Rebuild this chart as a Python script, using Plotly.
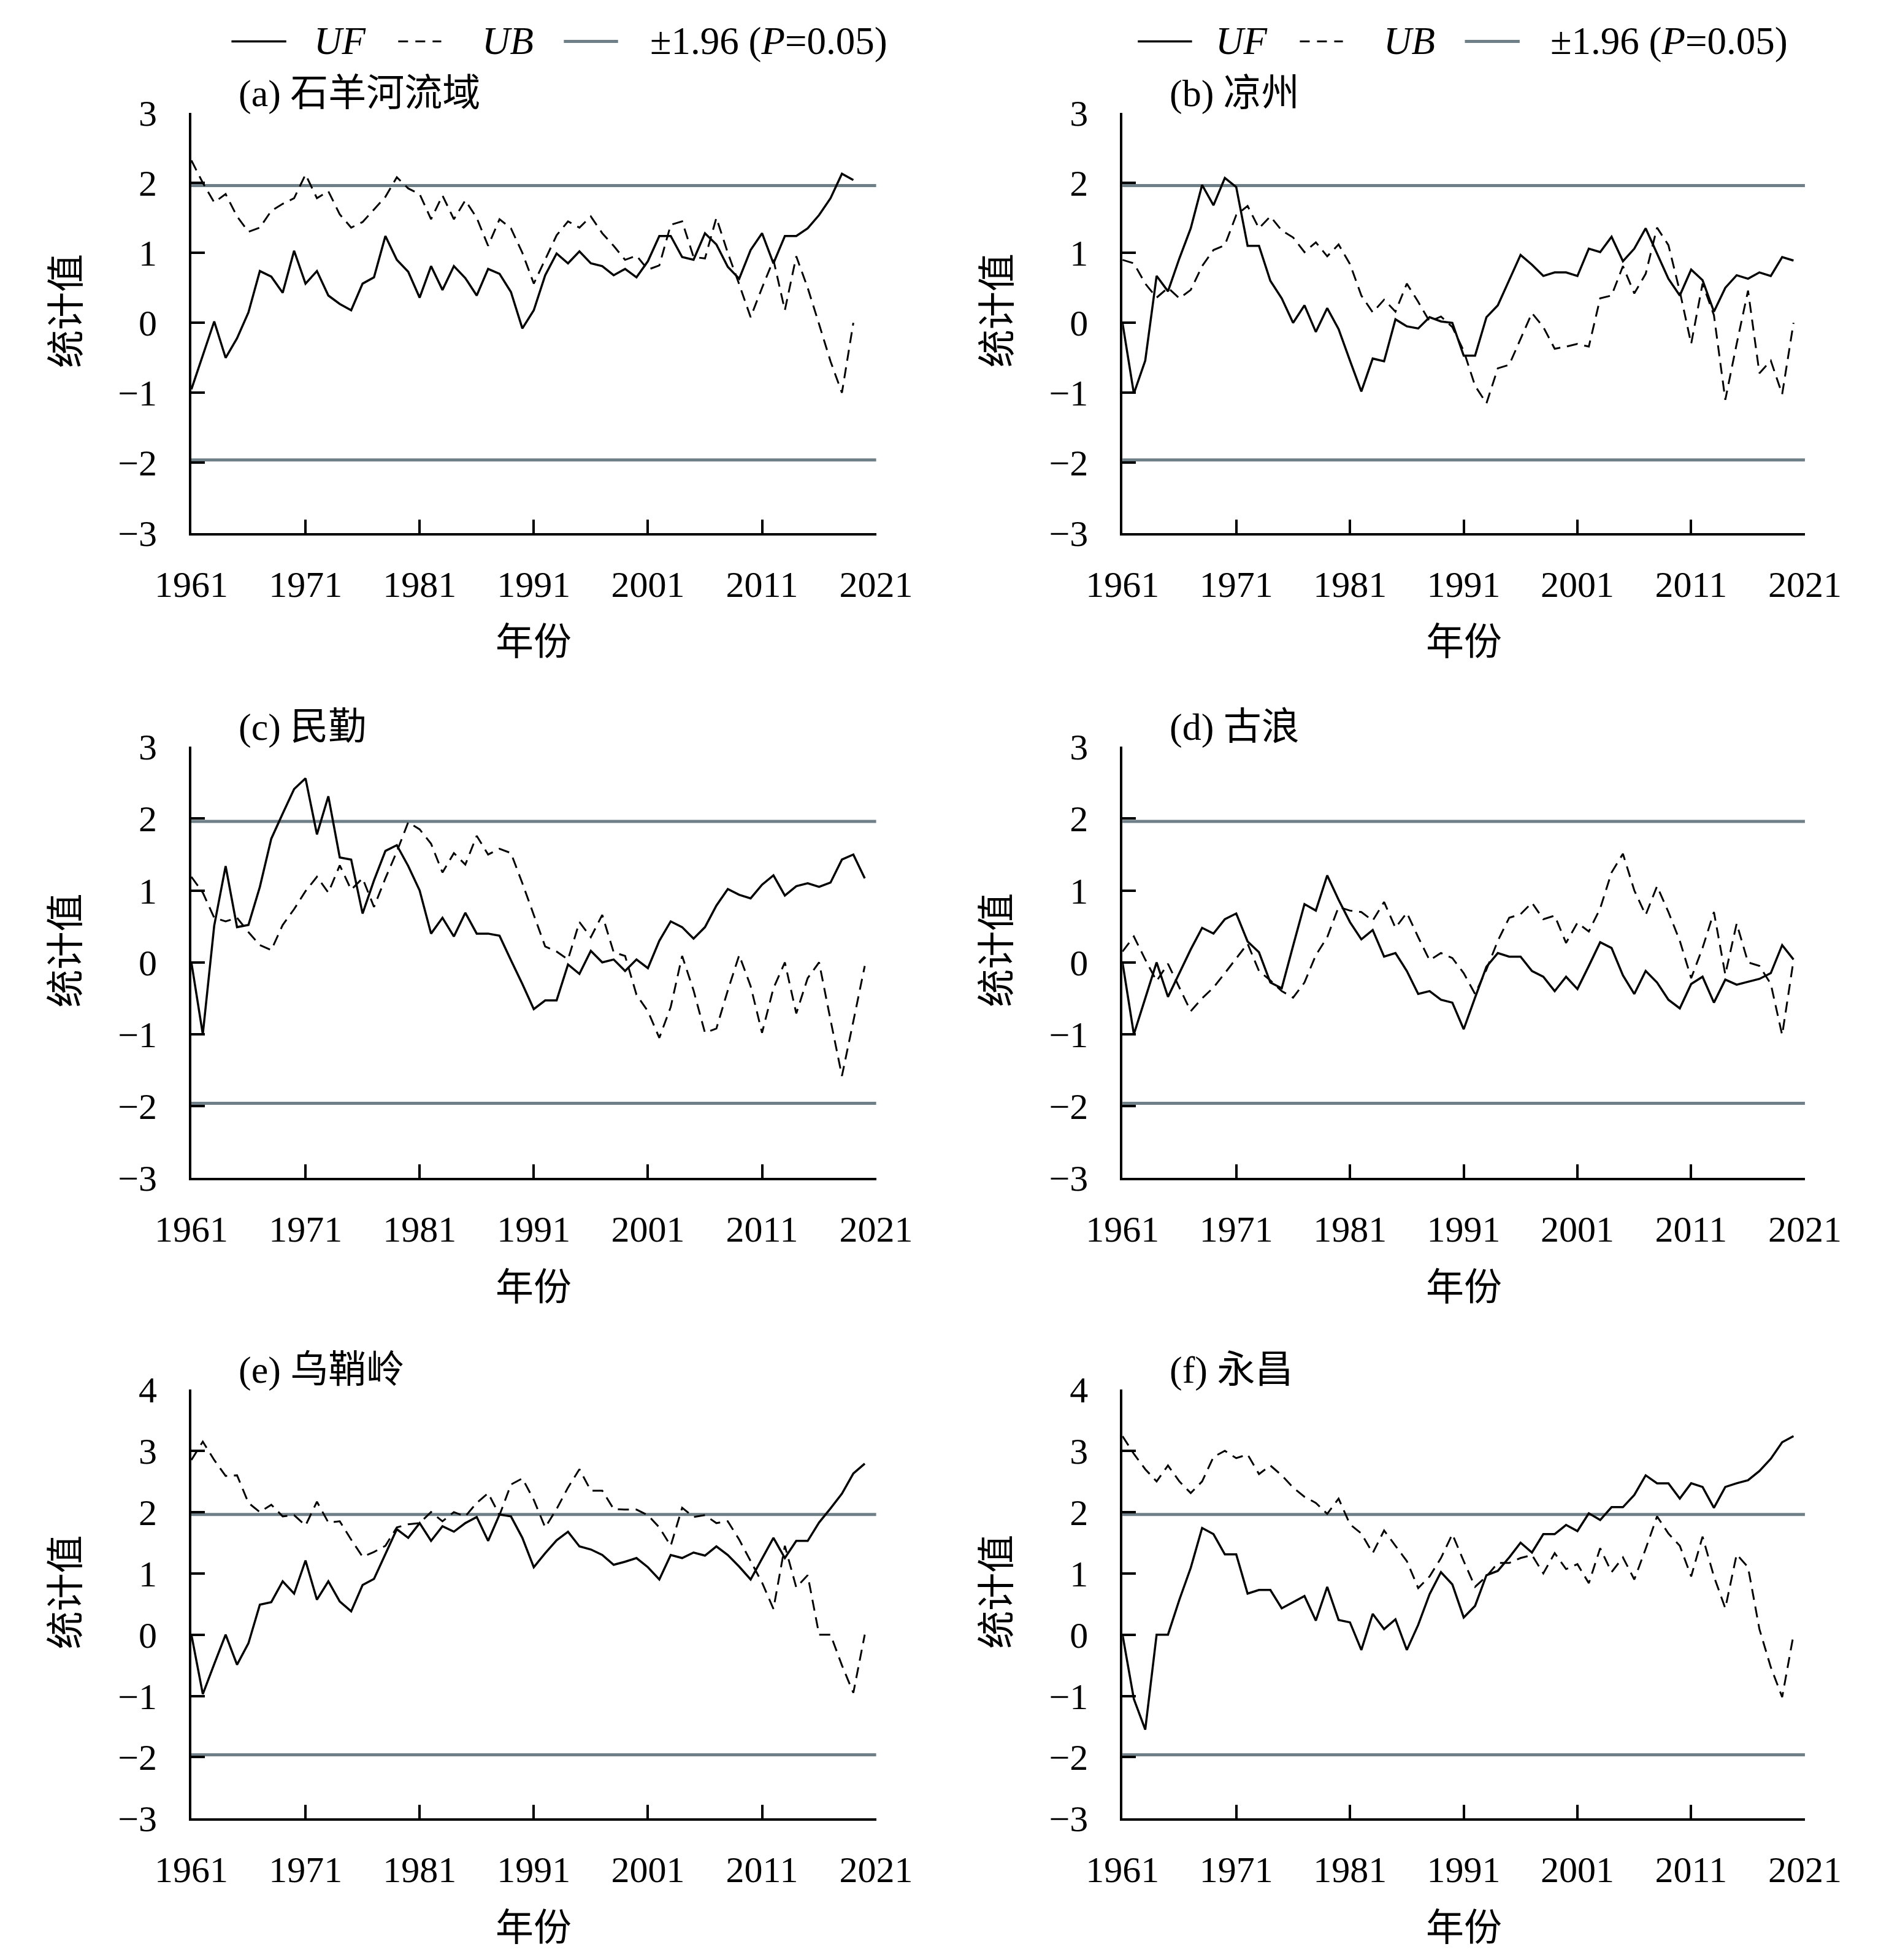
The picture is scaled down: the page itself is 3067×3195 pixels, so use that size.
import plotly.graph_objects as go
from plotly.subplots import make_subplots

# ── 1. DATA ──────────────────────────────────────────────────
YEARS_A = list(range(1961, 2020))   # basin series stops at 2019
YEARS = list(range(1961, 2021))

X_TICKS = [1961, 1971, 1981, 1991, 2001, 2011, 2021]

TITLES = ["(a) 石羊河流域", "(b) 凉州", "(c) 民勤", "(d) 古浪", "(e) 乌鞘岭", "(f) 永昌"]

uf_a = [-0.95, -0.47, 0.02, -0.50, -0.22, 0.15, 0.74, 0.66, 0.43, 1.03,
        0.56, 0.74, 0.39, 0.27, 0.18, 0.56, 0.65, 1.24, 0.90, 0.73,
        0.36, 0.81, 0.47, 0.81, 0.64, 0.39, 0.77, 0.70, 0.44, -0.08,
        0.18, 0.68, 0.99, 0.85, 1.02, 0.85, 0.81, 0.68, 0.77, 0.65,
        0.88, 1.24, 1.24, 0.94, 0.90, 1.28, 1.12, 0.80, 0.63, 1.04,
        1.28, 0.85, 1.24, 1.24, 1.35, 1.54, 1.78, 2.13, 2.04]
ub_a = [2.32, 2.00, 1.72, 1.84, 1.52, 1.30, 1.36, 1.60, 1.70, 1.78,
        2.12, 1.78, 1.88, 1.55, 1.36, 1.44, 1.62, 1.80, 2.08, 1.92,
        1.84, 1.48, 1.82, 1.48, 1.75, 1.50, 1.10, 1.48, 1.35, 1.00,
        0.56, 0.90, 1.25, 1.45, 1.36, 1.52, 1.28, 1.10, 0.90, 0.96,
        0.76, 0.82, 1.40, 1.45, 0.94, 0.92, 1.50, 1.00, 0.55, 0.08,
        0.50, 0.90, 0.18, 0.95, 0.50, -0.02, -0.55, -1.00, 0.00]

uf_b = [0.00, -1.01, -0.54, 0.67, 0.45, 0.92, 1.35, 1.97, 1.68, 2.07,
        1.94, 1.10, 1.10, 0.60, 0.35, 0.00, 0.25, -0.13, 0.21, -0.09,
        -0.54, -0.98, -0.51, -0.55, 0.05, -0.05, -0.08, 0.08, 0.02, 0.00,
        -0.47, -0.47, 0.08, 0.25, 0.61, 0.97, 0.83, 0.67, 0.72, 0.72,
        0.67, 1.06, 1.01, 1.23, 0.88, 1.06, 1.35, 0.99, 0.63, 0.39,
        0.76, 0.61, 0.16, 0.50, 0.68, 0.63, 0.72, 0.67, 0.94, 0.89]
ub_b = [0.90, 0.85, 0.56, 0.36, 0.50, 0.35, 0.47, 0.81, 1.04, 1.11,
        1.54, 1.67, 1.35, 1.52, 1.32, 1.22, 1.01, 1.15, 0.95, 1.12,
        0.84, 0.39, 0.15, 0.33, 0.16, 0.56, 0.30, 0.02, 0.09, -0.06,
        -0.40, -0.90, -1.15, -0.65, -0.60, -0.23, 0.14, -0.06, -0.37, -0.34,
        -0.30, -0.34, 0.35, 0.39, 0.81, 0.42, 0.70, 1.36, 1.11, 0.45,
        -0.30, 0.56, 0.11, -1.10, -0.30, 0.46, -0.72, -0.54, -1.02, 0.00]

uf_c = [0.00, -1.00, 0.51, 1.34, 0.49, 0.52, 1.05, 1.72, 2.07, 2.41,
        2.56, 1.78, 2.31, 1.46, 1.43, 0.68, 1.14, 1.55, 1.63, 1.34,
        1.00, 0.40, 0.62, 0.36, 0.69, 0.40, 0.40, 0.37, 0.03, -0.30,
        -0.65, -0.53, -0.53, -0.03, -0.16, 0.16, 0.00, 0.04, -0.12, 0.04,
        -0.08, 0.30, 0.57, 0.49, 0.33, 0.49, 0.79, 1.02, 0.94, 0.89,
        1.08, 1.21, 0.93, 1.06, 1.10, 1.05, 1.11, 1.43, 1.50, 1.17]
ub_c = [1.19, 0.97, 0.62, 0.57, 0.62, 0.42, 0.24, 0.17, 0.52, 0.74,
        0.99, 1.19, 0.97, 1.35, 1.01, 1.17, 0.77, 1.17, 1.54, 1.95,
        1.85, 1.65, 1.25, 1.52, 1.36, 1.76, 1.50, 1.58, 1.52, 1.10,
        0.66, 0.22, 0.15, 0.04, 0.56, 0.35, 0.66, 0.14, 0.09, -0.45,
        -0.68, -1.05, -0.62, 0.09, -0.39, -0.98, -0.92, -0.39, 0.10, -0.33,
        -0.98, -0.36, 0.00, -0.71, -0.22, 0.00, -0.80, -1.58, -0.82, -0.05]

uf_d = [0.00, -1.00, -0.50, 0.00, -0.48, -0.15, 0.18, 0.48, 0.40, 0.60,
        0.68, 0.29, 0.14, -0.28, -0.36, 0.23, 0.81, 0.72, 1.21, 0.87,
        0.56, 0.32, 0.45, 0.08, 0.13, -0.12, -0.44, -0.40, -0.52, -0.56,
        -0.93, -0.49, -0.06, 0.13, 0.08, 0.08, -0.12, -0.20, -0.40, -0.20,
        -0.37, -0.05, 0.28, 0.20, -0.18, -0.44, -0.12, -0.28, -0.52, -0.64,
        -0.30, -0.20, -0.56, -0.24, -0.31, -0.27, -0.23, -0.15, 0.24, 0.04]
ub_d = [0.15, 0.36, 0.04, -0.26, -0.02, -0.35, -0.68, -0.50, -0.35, -0.15,
        0.05, 0.26, -0.12, -0.25, -0.40, -0.49, -0.28, 0.10, 0.35, 0.77,
        0.72, 0.70, 0.58, 0.84, 0.48, 0.69, 0.35, 0.03, 0.13, 0.06,
        -0.15, -0.44, -0.10, 0.30, 0.62, 0.67, 0.83, 0.60, 0.65, 0.27,
        0.55, 0.43, 0.75, 1.25, 1.51, 1.00, 0.66, 1.06, 0.70, 0.30,
        -0.22, 0.20, 0.70, -0.17, 0.54, 0.00, -0.05, -0.30, -1.01, 0.03]

uf_e = [0.00, -0.97, -0.48, 0.00, -0.49, -0.14, 0.49, 0.53, 0.87, 0.67,
        1.21, 0.57, 0.87, 0.54, 0.38, 0.81, 0.91, 1.32, 1.72, 1.58,
        1.82, 1.53, 1.77, 1.68, 1.82, 1.92, 1.53, 1.96, 1.93, 1.58,
        1.10, 1.33, 1.54, 1.68, 1.44, 1.39, 1.30, 1.14, 1.19, 1.25,
        1.10, 0.90, 1.30, 1.25, 1.34, 1.29, 1.44, 1.30, 1.11, 0.90,
        1.24, 1.58, 1.25, 1.53, 1.53, 1.83, 2.06, 2.30, 2.63, 2.79]
ub_e = [2.85, 3.15, 2.85, 2.59, 2.60, 2.15, 2.00, 2.12, 1.93, 1.95,
        1.78, 2.17, 1.83, 1.85, 1.55, 1.27, 1.35, 1.45, 1.75, 1.80,
        1.82, 2.00, 1.85, 2.00, 1.93, 2.15, 2.31, 1.95, 2.45, 2.55,
        2.20, 1.75, 2.05, 2.40, 2.70, 2.35, 2.35, 2.05, 2.04, 2.04,
        1.95, 1.75, 1.45, 2.07, 1.92, 1.95, 1.82, 1.85, 1.55, 1.20,
        0.85, 0.42, 1.45, 0.77, 0.97, 0.00, 0.00, -0.50, -0.95, 0.00]

uf_f = [0.00, -1.05, -1.55, 0.00, 0.00, 0.57, 1.09, 1.74, 1.64, 1.31,
        1.31, 0.67, 0.73, 0.73, 0.43, 0.53, 0.63, 0.23, 0.78, 0.24,
        0.20, -0.25, 0.34, 0.09, 0.25, -0.25, 0.16, 0.66, 1.02, 0.82,
        0.28, 0.47, 0.97, 1.04, 1.26, 1.50, 1.34, 1.64, 1.64, 1.79,
        1.69, 1.98, 1.87, 2.08, 2.08, 2.28, 2.60, 2.47, 2.47, 2.22,
        2.47, 2.41, 2.07, 2.41, 2.47, 2.52, 2.67, 2.87, 3.14, 3.24]
ub_f = [3.24, 2.95, 2.70, 2.50, 2.76, 2.50, 2.31, 2.50, 2.90, 3.00,
        2.88, 2.94, 2.62, 2.76, 2.60, 2.40, 2.25, 2.15, 1.97, 2.22,
        1.80, 1.65, 1.33, 1.70, 1.45, 1.20, 0.76, 0.95, 1.25, 1.64,
        1.20, 0.78, 0.95, 1.17, 1.17, 1.25, 1.30, 1.00, 1.33, 1.07,
        1.15, 0.84, 1.41, 1.02, 1.26, 0.90, 1.40, 1.93, 1.65, 1.45,
        0.95, 1.60, 0.95, 0.43, 1.31, 1.10, 0.09, -0.53, -1.02, 0.00]

CRIT = 1.96
Y_RANGES = [[-3, 3], [-3, 3], [-3, 4]]   # per row

# ── 2. LAYOUT CONSTANTS (pixels in a 3067 x 3195 page) ───────
W, H = 3067, 3195
COL_X = [(254, 1416), (1834, 2992)]
ROW_Y = [(147, 846), (1202, 1920), (2272, 2986)]

GREY = "#6f7f87"
FONT = "Liberation Serif, Noto Sans CJK SC, serif"
FS = 60


def px(x):
    return x / W


def py(y):
    return 1 - y / H


panels = [
    (YEARS_A, uf_a, ub_a), (YEARS, uf_b, ub_b),
    (YEARS, uf_c, ub_c), (YEARS, uf_d, ub_d),
    (YEARS, uf_e, ub_e), (YEARS, uf_f, ub_f),
]

# ── 3. BUILD FIGURE ──────────────────────────────────────────
fig = make_subplots(rows=3, cols=2)

for k, (yrs, uf, ub) in enumerate(panels):
    r, c = k // 2 + 1, k % 2 + 1
    fig.add_trace(go.Scatter(x=yrs, y=uf, mode="lines", showlegend=False,
                             line=dict(color="black", width=3.5)), row=r, col=c)
    fig.add_trace(go.Scatter(x=yrs, y=ub, mode="lines", showlegend=False,
                             line=dict(color="black", width=3, dash="18px,11px")),
                  row=r, col=c)
    # significance bounds (after the traces, so the subplot is not "empty")
    for lvl in (CRIT, -CRIT):
        fig.add_hline(y=lvl, row=r, col=c, layer="below",
                      line=dict(color=GREY, width=5))

axis_common = dict(
    showline=True, linecolor="black", linewidth=4,
    ticks="inside", ticklen=22, tickwidth=4, tickcolor="black",
    showgrid=False, zeroline=False,
    tickfont=dict(family=FONT, size=FS, color="black"),
)

annotations = []
for k in range(6):
    r, c = k // 2, k % 2
    x0, x1 = COL_X[c]
    y0, y1 = ROW_Y[r]
    fig.update_xaxes(axis_common, row=r + 1, col=c + 1,
                     range=[1961, 2021], tickvals=X_TICKS,
                     domain=[px(x0), px(x1)], ticklabelstandoff=28)
    fig.update_yaxes(axis_common, row=r + 1, col=c + 1,
                     range=Y_RANGES[r], dtick=1,
                     domain=[py(y1), py(y0)], ticklabelstandoff=40)
    # panel title
    annotations.append(dict(text=TITLES[k], x=px(x0 + 78), y=py(y0 - 32),
                            xref="paper", yref="paper", showarrow=False,
                            xanchor="left", yanchor="middle",
                            font=dict(family=FONT, size=62)))
    # axis titles
    annotations.append(dict(text="统计值", x=px(x0 - 212), y=py((y0 + y1) / 2 - 20),
                            xref="paper", yref="paper", showarrow=False,
                            textangle=-90, xanchor="center", yanchor="middle",
                            font=dict(family=FONT, size=62)))
    annotations.append(dict(text="年份", x=px((x0 + x1) / 2), y=py(y1 + 182),
                            xref="paper", yref="paper", showarrow=False,
                            xanchor="center", yanchor="middle",
                            font=dict(family=FONT, size=62)))

# ── 4. HAND-DRAWN LEGENDS (one per column, at the top) ───────
LEG_Y = 28
legend_sets = [
    # solid, UF text, dashed, UB text, grey, grey text
    dict(solid=(322, 415), uf=460, dash=(605, 678), ub=745, grey=(886, 978), txt=1030),
    dict(solid=(1860, 1952), uf=1990, dash=(2135, 2208), ub=2275, grey=(2415, 2508), txt=2558),
]
shapes = []
for lg in legend_sets:
    shapes.append(dict(type="line", xref="paper", yref="paper",
                       x0=px(lg["solid"][0]), x1=px(lg["solid"][1]),
                       y0=py(LEG_Y), y1=py(LEG_Y), line=dict(color="black", width=3.5)))
    shapes.append(dict(type="line", xref="paper", yref="paper",
                       x0=px(lg["dash"][0]), x1=px(lg["dash"][1]),
                       y0=py(LEG_Y), y1=py(LEG_Y),
                       line=dict(color="black", width=3, dash="16px,12px")))
    shapes.append(dict(type="line", xref="paper", yref="paper",
                       x0=px(lg["grey"][0]), x1=px(lg["grey"][1]),
                       y0=py(LEG_Y), y1=py(LEG_Y), line=dict(color=GREY, width=5)))
    for key, txt in (("uf", "<i>UF</i>"), ("ub", "<i>UB</i>"),
                     ("txt", "±1.96 (<i>P</i>=0.05)")):
        annotations.append(dict(text=txt, x=px(lg[key]), y=py(LEG_Y),
                                xref="paper", yref="paper", showarrow=False,
                                xanchor="left", yanchor="middle",
                                font=dict(family=FONT, size=63)))

fig.update_layout(
    width=W, height=H,
    margin=dict(l=0, r=0, t=0, b=0),
    paper_bgcolor="white", plot_bgcolor="rgba(0,0,0,0)",
    font=dict(family=FONT, size=FS, color="black"),
    showlegend=False,
    annotations=list(fig.layout.annotations) + annotations,
    shapes=list(fig.layout.shapes) + shapes,
)

fig.write_html("out.html")
